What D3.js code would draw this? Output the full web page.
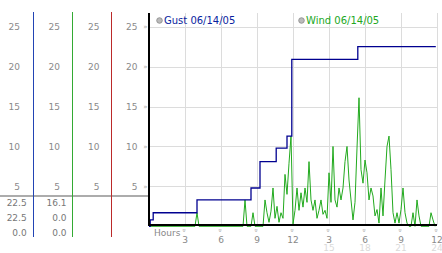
<!DOCTYPE html>
<html><head><meta charset="utf-8">
<script src="https://cdn.jsdelivr.net/npm/d3@7"></script>
<style>html,body{margin:0;padding:0;background:#fff;}svg{display:block;font-family:"DejaVu Sans",Verdana,sans-serif;}</style>
</head><body>
<script>
// ---- data ----
const yTicks = [5, 10, 15, 20, 25];
const xTicks = [3, 6, 9, 12, 15, 18, 21, 24];
const xTickLabels = ["3", "6", "9", "12", "3", "6", "9", "12"];
const xTickLabels2 = ["", "", "", "", "15", "18", "21", "24"];
const legendNames = ["Gust 06/14/05", "Wind 06/14/05"];
// gust: [hour, value], stepped
const gustHours  = [0, 0.1, 0.35, 4.0, 8.5, 9.25, 10.6, 11.5, 11.9, 17.4, 23.9];
const gustValues = [0, 0.8, 1.7, 3.3, 4.8, 8.1, 9.8, 11.3, 20.9, 22.5, 22.5];
// wind: one value every 10 minutes
const windValues = [
 0,0,0,0,0,0,0,0,0,0,0,0,0,0,0,0,0,0,0,0,0,0,0,0,
 1.7,
 0,0,0,0,0,0,0,0,0,0,0,0,0,0,0,0,0,0,0,0,0,0,0,
 3.3,0,0,0,1.7,0,0,0,0,0,
 3.3,1.7,0.5,1.9,4.8,1,2.5,0.5,1.7,1,6.5,4,7.9,11.3,0.3,2,4.8,2,4.2,2.4,
 4.8,3,8.1,3.3,2,3.3,1,2,3.3,1.5,2,1,6.7,3,10,3.3,2.4,4.8,3.3,4.8,
 8.1,10,5.8,3.3,0.8,3,9.8,16.1,7.1,5.4,8.3,6.7,3.3,4.8,3.8,1.3,2.1,0.4,4.8,1.3,
 5.8,10,11.3,7.1,1.7,0.4,1.7,0.4,2.1,4.8,1.7,0.4,0,0,1.7,0,3.3,1.3,
 0,0,0,0,0,1.7,0.8,0
];
const panelSeriesColors = ["#2244b4", "#33aa33", "#bb2a2a"];
const panelValues = [["22.5", "22.5", "0.0"], ["16.1", "0.0", "0.0"]];

// ---- drawing ----
const W = 442, H = 253;
const svg = d3.select("body").append("svg").attr("width", W).attr("height", H);
const x = d3.scaleLinear().domain([0, 24]).range([149, 437]);
const y = d3.scaleLinear().domain([0, 25]).range([226.3, 26.7]);
const plotTop = 13;

// grid
svg.append("g").selectAll("line").data(xTicks).join("line")
  .attr("x1", d => x(d) + 0.5).attr("x2", d => x(d) + 0.5)
  .attr("y1", plotTop).attr("y2", 225).attr("stroke", "#dcdcdc").attr("stroke-width", 1);
svg.append("g").selectAll("line").data(yTicks).join("line")
  .attr("x1", 149).attr("x2", x(24)).attr("y1", d => Math.round(y(d)) + 0.5).attr("y2", d => Math.round(y(d)) + 0.5)
  .attr("stroke", "#dcdcdc").attr("stroke-width", 1);

// left panel
const colRight = [20, 60, 99.5, 137.5];
const lp = svg.append("g").attr("font-size", 9).attr("fill", "#8a8a8a").attr("text-anchor", "end");
colRight.forEach(cx => {
  lp.append("g").selectAll("text").data(yTicks).join("text")
    .attr("x", cx).attr("y", d => y(d) + 3.3).text(d => d);
});
// y tick marks
svg.append("g").selectAll("text").data(yTicks).join("text")
  .attr("x", 145.5).attr("y", d => y(d) + 2.5).attr("text-anchor", "middle")
  .attr("font-size", 7).attr("fill", "#aaa").text("»");
// gray separator
svg.append("line").attr("x1", 0).attr("x2", 149).attr("y1", 196).attr("y2", 196)
  .attr("stroke", "#acacac").attr("stroke-width", 2);
// series vertical lines
const colX = [33.5, 72.5, 111.5];
svg.append("g").selectAll("line").data(panelSeriesColors).join("line")
  .attr("x1", (d, i) => colX[i]).attr("x2", (d, i) => colX[i]).attr("y1", 12).attr("y2", 237)
  .attr("stroke", d => d).attr("stroke-width", 1);
// panel values
const valRight = [26.7, 66.5];
const rowY = [206, 221, 235.5];
panelValues.forEach((col, ci) => {
  svg.append("g").selectAll("text").data(col).join("text")
    .attr("x", valRight[ci]).attr("y", (d, i) => rowY[i]).attr("text-anchor", "end")
    .attr("font-size", 9).attr("fill", "#777").text(d => d);
});

// wind line
const windData = windValues.map((v, i) => [i / 6, v]);
svg.append("path").datum(windData)
  .attr("d", d3.line().x(d => x(d[0])).y(d => y(d[1])))
  .attr("fill", "none").attr("stroke", "#22aa1e").attr("stroke-width", 1);

// gust line
const gustData = gustHours.map((h, i) => [h, gustValues[i]]);
svg.append("path").datum(gustData)
  .attr("d", d3.line().curve(d3.curveStepAfter).x(d => x(d[0])).y(d => y(d[1])))
  .attr("fill", "none").attr("stroke", "#000090").attr("stroke-width", 1.3);

// axes
svg.append("line").attr("x1", 149).attr("x2", 149).attr("y1", plotTop).attr("y2", 226)
  .attr("stroke", "#000").attr("stroke-width", 2);
svg.append("line").attr("x1", 148).attr("x2", x(24)).attr("y1", 225).attr("y2", 225)
  .attr("stroke", "#000").attr("stroke-width", 2);

// x axis labels
svg.append("text").attr("x", 154).attr("y", 235.5).attr("font-size", 9).attr("fill", "#888").text("Hours");
svg.append("g").selectAll("text").data(xTicks).join("text")
  .attr("transform", d => `translate(${x(d) - 0.5},${230.5}) rotate(90)`)
  .attr("text-anchor", "middle").attr("dy", "0.3em").attr("font-size", 7).attr("fill", "#aaa").text("»");
svg.append("g").selectAll("text").data(xTicks).join("text")
  .attr("x", d => x(d)).attr("y", 242.5).attr("text-anchor", "middle")
  .attr("font-size", 9).attr("fill", "#888").text((d, i) => xTickLabels[i]);
svg.append("g").selectAll("text").data(xTicks).join("text")
  .attr("x", d => x(d)).attr("y", 251).attr("text-anchor", "middle")
  .attr("font-size", 9).attr("fill", "#dadada").text((d, i) => xTickLabels2[i]);

// legend
const legX = [159.5, 301.5];
const legColors = ["#0a1fa0", "#22a81e"];
legendNames.forEach((name, i) => {
  svg.append("circle").attr("cx", legX[i]).attr("cy", 20.5).attr("r", 2.8)
    .attr("fill", "#bbb").attr("stroke", "#888").attr("stroke-width", 0.8);
  svg.append("text").attr("x", legX[i] + 4.5).attr("y", 24.3).attr("font-size", 10)
    .attr("fill", legColors[i]).text(name);
});
</script>
</body></html>
